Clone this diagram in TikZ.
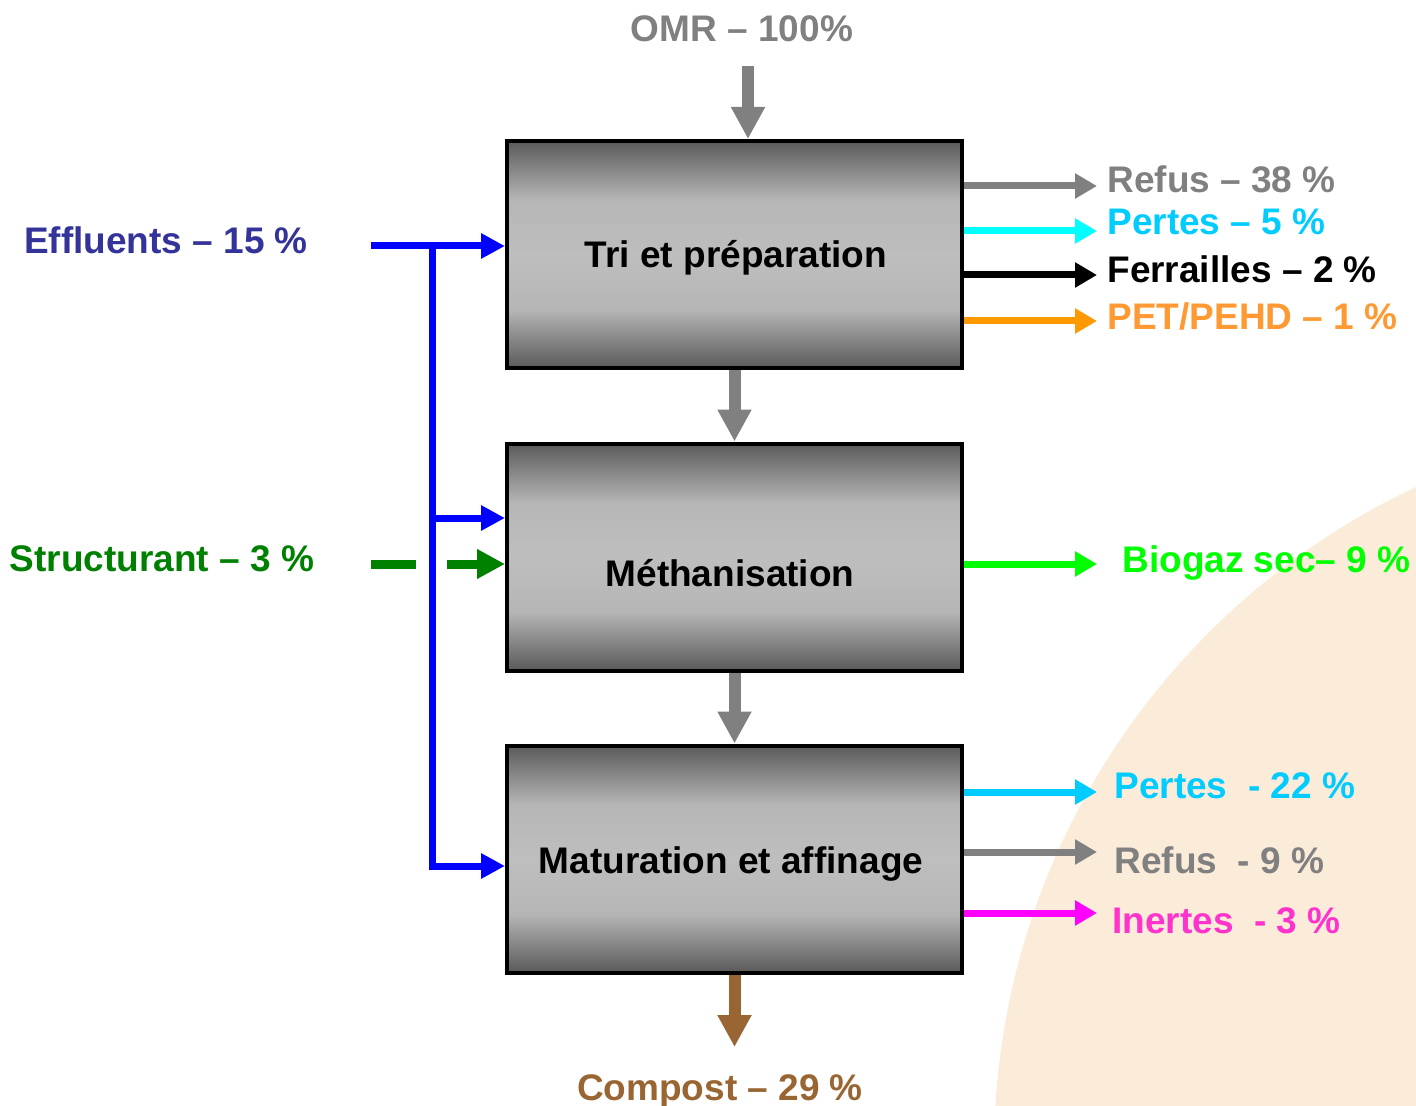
\documentclass[tikz,border=0pt]{standalone}
\usepackage{fontspec}
\setmainfont{Liberation Sans}
\usetikzlibrary{arrows.meta}

\definecolor{gris}{HTML}{808080}
\definecolor{fonce}{HTML}{5A5A5A}
\definecolor{clair}{HTML}{BEBEBE}
\definecolor{peche}{HTML}{FBEBD9}
\definecolor{cyanvif}{HTML}{00FFFF}
\definecolor{bleuciel}{HTML}{00CCFF}
\definecolor{orangevif}{HTML}{FF9900}
\definecolor{orangeclair}{HTML}{FF9933}
\definecolor{vert}{HTML}{00FF00}
\definecolor{vertfonce}{HTML}{008000}
\definecolor{magenta}{HTML}{FF00FF}
\definecolor{rose}{HTML}{FF33CC}
\definecolor{bleu}{HTML}{0000FF}
\definecolor{bleufonce}{HTML}{333399}
\definecolor{brun}{HTML}{996633}

% degrade des etapes
\pgfdeclareverticalshading{etapeshade}{100bp}{color(0bp)=(fonce); color(25bp)=(fonce);
  color(38bp)=(clair!92!fonce); color(50bp)=(clair); color(62bp)=(clair!92!fonce);
  color(75bp)=(fonce); color(100bp)=(fonce)}

\tikzset{
  etape/.style={draw, line width=2pt, minimum width=227.5pt, minimum height=113.5pt,
    inner sep=0pt, shading=etapeshade},
  lab/.style={font=\bfseries\fontsize{18.5}{22}\selectfont, inner sep=0pt},
  flux/.style={line width=6pt, -{Triangle[length=16pt,width=16pt]}},
  sortie/.style={line width=3.5pt, -{Triangle[length=11pt,width=12pt]}},
  apport/.style={line width=3.5pt, bleu, -{Triangle[length=12pt,width=12pt]}},
  ajout/.style={line width=4.5pt, vertfonce, dash pattern=on 22.5pt off 15.5pt,
    -{Triangle[length=14pt,width=14pt]}}
}

\begin{document}
\begin{tikzpicture}[x=0.5pt, y=-0.5pt]
\useasboundingbox (0,0) rectangle (1416,1106);
% fond
\begin{scope}
  \clip (0,0) rectangle (1416,1106);
  \fill[peche] (1727,1151) circle[radius=733];
\end{scope}

% etapes du procede
\node[etape] (tri) at (734.5,254.5) {};
\node[etape] (meth) at (734.5,557) {};
\node[etape] (mat) at (734.5,859) {};
\node[lab, anchor=base] (ttri) at (736,268) {Tri et préparation};
\node[lab, anchor=base] (tmeth) at (730,586) {Méthanisation};
\node[lab, anchor=base] (tmat) at (731,873) {Maturation et affinage};

% entree et sortie principales
\node[lab, text=gris, anchor=base] (omr) at (742,42) {OMR – 100\%};
\coordinate (omr0) at (748,66);
\draw[flux, gris] (omr0) -- (omr0 |- tri.north);
\draw[flux, gris] (tri.south) -- (meth.north);
\draw[flux, gris] (meth.south) -- (mat.north);
\coordinate (cp) at (734.5,1047);
\draw[flux, brun] (mat.south) -- (cp);
\node[lab, text=brun, anchor=base] (compost) at (720,1100) {Compost – 29 \%};

% sorties du tri
\coordinate (s1) at (1097,186);
\coordinate (s2) at (1097,231);
\coordinate (s3) at (1097,275);
\coordinate (s4) at (1097,321);
\draw[sortie, gris] (tri.east |- s1) -- (s1);
\draw[sortie, cyanvif] (tri.east |- s2) -- (s2);
\draw[sortie, black] (tri.east |- s3) -- (s3);
\draw[sortie, orangevif] (tri.east |- s4) -- (s4);
\node[lab, text=gris, anchor=base west] (refus1) at (1107,193) {Refus – 38 \%};
\node[lab, text=bleuciel, anchor=base west] (pertes1) at (1107,235) {Pertes – 5 \%};
\node[lab, anchor=base west] (fer) at (1107,283) {Ferrailles – 2 \%};
\node[lab, text=orangeclair, anchor=base west] (pet) at (1107,330) {PET/PEHD – 1 \%};

% biogaz
\coordinate (s5) at (1097,564);
\draw[sortie, vert] (meth.east |- s5) -- (s5);
\node[lab, text=vert, anchor=base west] (bio) at (1122,572) {Biogaz sec– 9 \%};

% sorties de la maturation
\coordinate (s6) at (1097,792);
\coordinate (s7) at (1097,852);
\coordinate (s8) at (1097,913);
\draw[sortie, bleuciel] (mat.east |- s6) -- (s6);
\draw[sortie, gris] (mat.east |- s7) -- (s7);
\draw[sortie, magenta] (mat.east |- s8) -- (s8);
\node[lab, text=bleuciel, anchor=base west] (pertes2) at (1114,798) {Pertes\ \ - 22 \%};
\node[lab, text=gris, anchor=base west] (refus2) at (1114,873) {Refus\ \ - 9 \%};
\node[lab, text=rose, anchor=base west] (inertes) at (1112,933) {Inertes\ \ - 3 \%};

% apports
\node[lab, text=bleufonce, anchor=base] (eff) at (166,254) {Effluents – 15 \%};
\coordinate (e0) at (371,246);
\coordinate (j0) at (432,246);
\coordinate (j1) at (432,518);
\coordinate (j2) at (432,866);
\draw[apport] (e0) -- (e0 -| tri.west);
\draw[apport] (j1) -- (j1 -| meth.west);
\draw[apport] (j0) -- (j2) -- (j2 -| mat.west);
\node[lab, text=vertfonce, anchor=base] (struct) at (162,571) {Structurant – 3 \%};
\coordinate (st0) at (371,564);
\draw[ajout] (st0) -- (st0 -| meth.west);
\end{tikzpicture}
\end{document}
